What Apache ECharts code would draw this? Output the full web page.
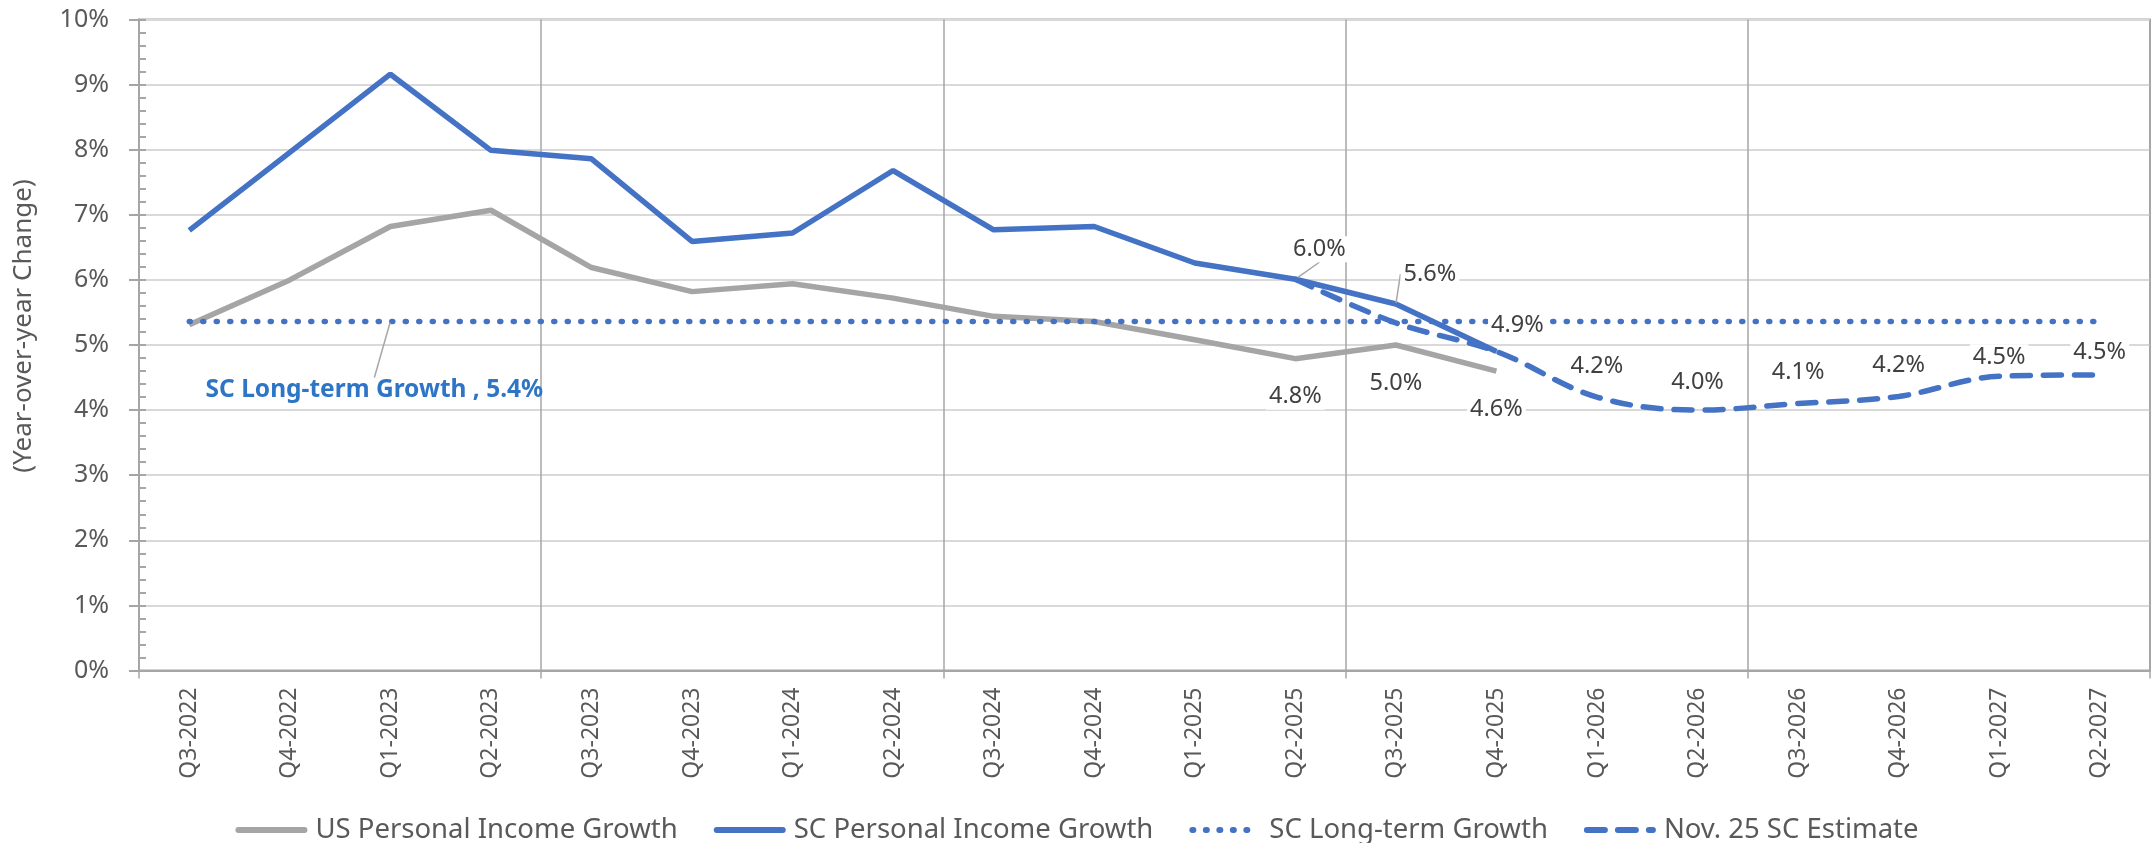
<!DOCTYPE html>
<html>
<head>
<meta charset="utf-8">
<script src="https://cdn.jsdelivr.net/npm/echarts@6/dist/echarts.min.js"></script>
<style>
  html, body { margin: 0; padding: 0; background: #fff; }
  #chart { width: 2154px; height: 843px; }
</style>
</head>
<body>
<div id="chart"></div>
<script>
const quarters = [
  'Q3-2022', 'Q4-2022', 'Q1-2023', 'Q2-2023', 'Q3-2023', 'Q4-2023', 'Q1-2024', 'Q2-2024',
  'Q3-2024', 'Q4-2024', 'Q1-2025', 'Q2-2025', 'Q3-2025', 'Q4-2025', 'Q1-2026', 'Q2-2026',
  'Q3-2026', 'Q4-2026', 'Q1-2027', 'Q2-2027'
]
const usGrowth = [5.31, 6.0, 6.82, 7.07, 6.19, 5.82, 5.94, 5.72, 5.44, 5.36, 5.08, 4.79, 5.0, 4.6,
  null, null, null, null, null, null]
const scGrowth = [6.76, 7.96, 9.16, 7.99, 7.86, 6.59, 6.72, 7.68, 6.77, 6.82, 6.26, 6.01, 5.63, 4.9,
  null, null, null, null, null, null]
const longTerm = quarters.map(() => 5.36)
const estimate = [null, null, null, null, null, null, null, null, null, null, null, 6.01, 5.34, 4.9,
  4.2, 4.0, 4.1, 4.21, 4.52, 4.54]
const yTicks = [0, 1, 2, 3, 4, 5, 6, 7, 8, 9, 10]

// which points get data labels
const usLabelIdx = [11, 12, 13]
const scLabelIdx = [11, 12, 13]
const estLabelIdx = [14, 15, 16, 17, 18, 19]
const longTermLabelIdx = 2

const FONT = '"Noto Sans", "Open Sans", sans-serif'
const BLUE = '#4472c4'
const GRAY = '#a5a5a5'
const HIDDEN = 'rgba(0,0,0,0)'
const pct = (v) => v.toFixed(1) + '%'

const valueLabel = {
  show: true,
  fontFamily: FONT,
  fontSize: 23.5,
  color: '#404040',
  backgroundColor: '#fff',
  padding: [1, 3],
  formatter: (p) => pct(p.value)
}

function withLabels(values, idx, label, extra) {
  return values.map((v, i) => {
    if (v === null || !idx.includes(i)) return v
    return Object.assign({ value: v, label: label }, extra ? extra(i) : {})
  })
}

// line series with invisible point symbols (labels need symbols to attach to)
function lineSeries(name, data, color, lineStyle, extra) {
  return Object.assign({
    name: name,
    type: 'line',
    data: data,
    showSymbol: true,
    symbol: 'circle',
    symbolSize: 2,
    itemStyle: { color: HIDDEN },
    lineStyle: Object.assign({ color: color, width: 5.5 }, lineStyle),
    emphasis: { disabled: true }
  }, extra)
}

// small nudges so estimate labels sit like the original
const estLabelNudge = { 15: 3, 18: 12, 19: 8 }

const chart = echarts.init(document.getElementById('chart'))
chart.setOption({
  animation: false,
  backgroundColor: '#fff',
  grid: {
    left: 139, right: 4, top: 19.5, bottom: 172.5,
    show: true, borderColor: '#a6a6a6', borderWidth: 2,
    containLabel: false, outerBoundsMode: 'none'
  },
  legend: {
    top: 811,
    left: 'center',
    itemWidth: 66,
    itemHeight: 14,
    itemGap: 36,
    itemStyle: { color: HIDDEN, borderWidth: 0 },
    lineStyle: { width: 6, cap: 'round' },
    textStyle: { fontFamily: FONT, fontSize: 27.5, color: '#595959', padding: [0, 0, 0, 6] },
    data: ['US Personal Income Growth', 'SC Personal Income Growth', 'SC Long-term Growth', 'Nov. 25 SC Estimate']
  },
  xAxis: {
    type: 'category',
    data: quarters,
    boundaryGap: true,
    axisLine: { lineStyle: { color: '#a6a6a6', width: 2 } },
    axisTick: {
      show: true, length: 8,
      interval: (i) => i % 4 === 0,
      lineStyle: { color: '#a6a6a6', width: 1.5 }
    },
    axisLabel: {
      rotate: 90, margin: 17, interval: 0,
      fontFamily: FONT, fontSize: 23, color: '#595959'
    },
    splitLine: {
      show: true,
      interval: (i) => i > 0 && i % 4 === 0,
      lineStyle: { color: '#a6a6a6', width: 1.5 }
    }
  },
  yAxis: [
    {
      type: 'value',
      min: yTicks[0], max: yTicks[yTicks.length - 1], interval: 1,
      name: '(Year-over-year Change)',
      nameLocation: 'middle',
      nameGap: 102,
      nameTextStyle: { fontFamily: FONT, fontSize: 26, color: '#595959', padding: [0, 0, 0, 38] },
      axisLine: { show: true, lineStyle: { color: '#a6a6a6', width: 2 } },
      axisTick: { show: true, length: 10, lineStyle: { color: '#a6a6a6', width: 2 } },
      axisLabel: { margin: 30, fontFamily: FONT, fontSize: 25, color: '#595959', formatter: '{value}%' },
      splitLine: { show: true, lineStyle: { color: '#d9d9d9', width: 2 } }
    },
    {
      // minor ticks drawn inside the plot
      type: 'value',
      min: 0, max: 10, interval: 0.2,
      position: 'left',
      axisLine: { show: false },
      axisLabel: { show: false },
      splitLine: { show: false },
      axisTick: { show: true, inside: true, length: 7, lineStyle: { color: '#a6a6a6', width: 2 } }
    }
  ],
  series: [
    lineSeries('US Personal Income Growth',
      withLabels(usGrowth, usLabelIdx, Object.assign({}, valueLabel, { position: 'bottom', distance: 24 })),
      GRAY, {}, { z: 2 }),
    lineSeries('SC Personal Income Growth',
      withLabels(scGrowth, scLabelIdx, Object.assign({}, valueLabel, { position: 'top', distance: 16 }),
        (i) => (i === 13 ? { labelLine: { show: false } } : {})),
      BLUE, {}, {
        z: 4,
        labelLine: { show: true, lineStyle: { color: '#a6a6a6', width: 1.5 } },
        labelLayout: (p) => ({ dx: p.dataIndex === 13 ? 21 : (p.dataIndex === 12 ? 34 : 24), dy: p.dataIndex === 13 ? 4 : 0 })
      }),
    lineSeries('SC Long-term Growth',
      withLabels(longTerm, [longTermLabelIdx], {
        show: true,
        position: 'bottom',
        distance: 55,
        fontFamily: FONT,
        fontSize: 24.5,
        fontWeight: 'bold',
        color: '#2e75c6',
        formatter: (p) => p.seriesName + ' , ' + pct(p.value)
      }),
      BLUE, { width: 5.5, type: [1, 12.5], cap: 'round' }, {
        z: 3,
        labelLine: { show: true, lineStyle: { color: '#a6a6a6', width: 1.5 } },
        labelLayout: () => ({ dx: -16 })
      }),
    lineSeries('Nov. 25 SC Estimate',
      withLabels(estimate, estLabelIdx, Object.assign({}, valueLabel, { position: 'top', distance: 17 })),
      BLUE, { width: 5.5, type: [18, 13], cap: 'round' }, {
        z: 5,
        smooth: 0.35,
        labelLayout: (p) => ({ dy: estLabelNudge[p.dataIndex] || 0 })
      })
  ]
})
</script>
</body>
</html>
